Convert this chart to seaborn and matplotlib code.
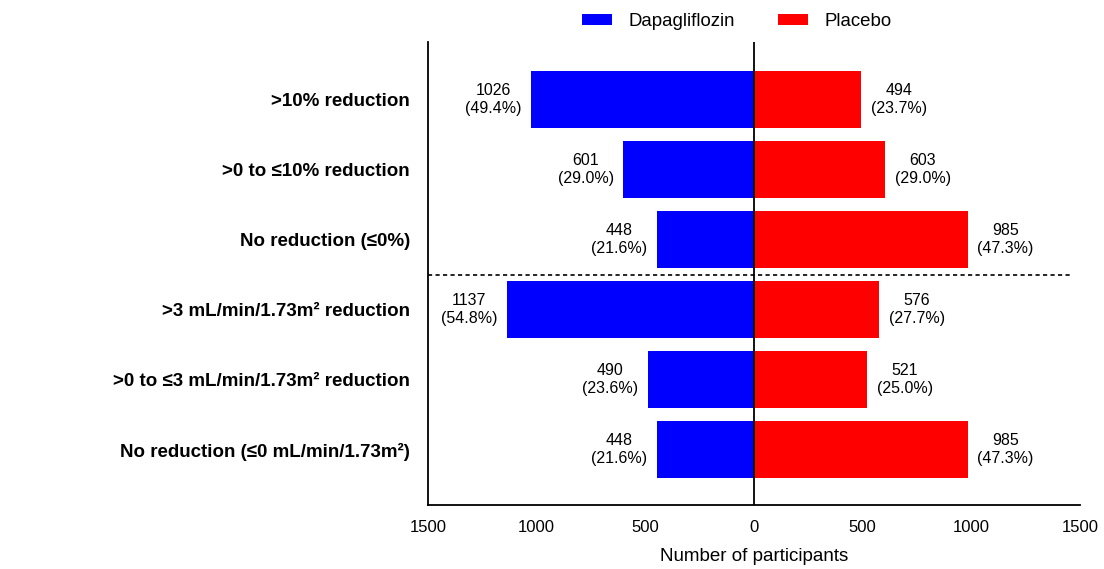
import pandas as pd
import matplotlib.pyplot as plt
import seaborn as sns

# Datos
categories = [
    ">10% reduction",
    ">0 to \u226410% reduction",
    "No reduction (\u22640%)",
    ">3 mL/min/1.73m\u00b2 reduction",
    ">0 to \u22643 mL/min/1.73m\u00b2 reduction",
    "No reduction (\u22640 mL/min/1.73m\u00b2)",
]
dapa_n = [1026, 601, 448, 1137, 490, 448]
dapa_pct = [49.4, 29.0, 21.6, 54.8, 23.6, 21.6]
placebo_n = [494, 603, 985, 576, 521, 985]
placebo_pct = [23.7, 29.0, 47.3, 27.7, 25.0, 47.3]
xticks = [-1500, -1000, -500, 0, 500, 1000, 1500]

sns.set_style("white")
plt.rcParams["font.family"] = ["Liberation Sans", "DejaVu Sans"]
plt.rcParams["text.color"] = "black"
plt.rcParams["axes.labelcolor"] = "black"
plt.rcParams["xtick.color"] = "black"
plt.rcParams["ytick.color"] = "black"

df = pd.DataFrame({
    "category": categories * 2,
    "value": [-v for v in dapa_n] + placebo_n,
    "group": ["Dapagliflozin"] * len(categories) + ["Placebo"] * len(categories),
})

fig = plt.figure(figsize=(11.04, 5.69), dpi=100)
ax = fig.add_axes([0.3877, 0.1125, 0.5906, 0.8135])

sns.barplot(
    data=df, x="value", y="category", hue="group", orient="h",
    dodge=False, width=0.81, order=categories,
    palette={"Dapagliflozin": "#0000ff", "Placebo": "#ff0000"},
    saturation=1, linewidth=0, ax=ax,
)

# Etiquetas de cada barra
for i in range(len(categories)):
    ax.annotate(f"{dapa_n[i]}\n({dapa_pct[i]:.1f}%)", xy=(-dapa_n[i], i),
                xytext=(-27, 0), textcoords="offset points",
                ha="center", va="center", fontsize=11.5, linespacing=1.2)
    ax.annotate(f"{placebo_n[i]}\n({placebo_pct[i]:.1f}%)", xy=(placebo_n[i], i),
                xytext=(27, 0), textcoords="offset points",
                ha="center", va="center", fontsize=11.5, linespacing=1.2)

ax.axvline(0, color="black", lw=1.3)
ax.axhline(2.5, xmin=0, xmax=0.985, color="black", lw=1.2, ls=(0, (2.5, 2)))

ax.set_xlim(-1500, 1500)
ax.set_ylim(5.79, -0.82)
ax.set_xticks(xticks)
ax.set_xticklabels([str(abs(t)) for t in xticks], fontsize=12)
ax.set_yticks(range(len(categories)))
ax.set_yticklabels(categories, fontsize=13.5, fontweight="bold")
ax.tick_params(axis="x", length=5, width=1.2, direction="out", pad=6)
ax.tick_params(axis="y", length=0, pad=13)
ax.set_xlabel("Number of participants", fontsize=13.5, labelpad=9)
ax.set_ylabel("")

for side in ["top", "right"]:
    ax.spines[side].set_visible(False)
for side in ["left", "bottom"]:
    ax.spines[side].set_linewidth(1.3)
    ax.spines[side].set_color("black")

sns.move_legend(
    ax, "center", bbox_to_anchor=(0.474, 1.0435), ncol=2, frameon=False,
    title=None, fontsize=13.4, handlelength=1.6, handleheight=0.55,
    handletextpad=0.9, columnspacing=2.3,
)

fig.savefig("out.png", dpi=100)
